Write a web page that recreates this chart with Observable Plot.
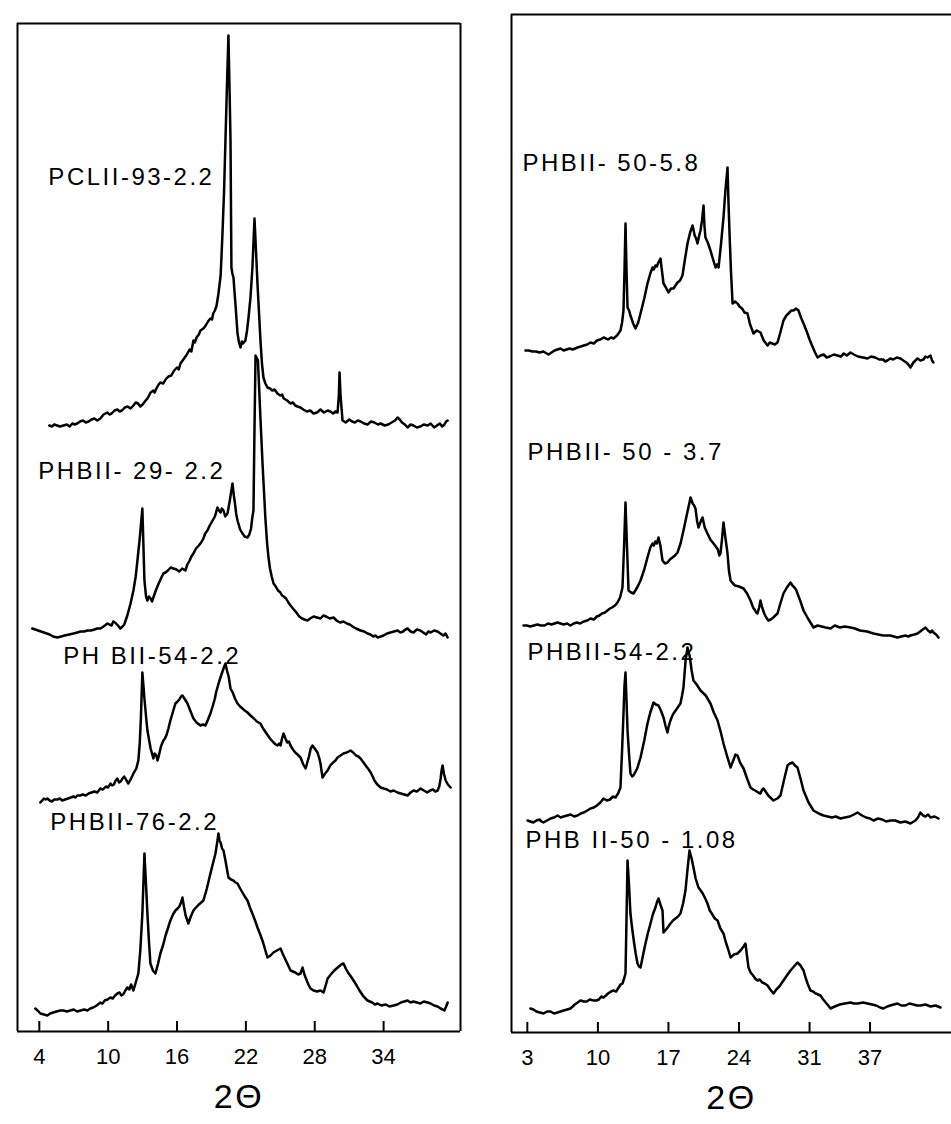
<!DOCTYPE html>
<html><head><meta charset="utf-8">
<script src="https://cdn.jsdelivr.net/npm/d3@7"></script>
<script src="https://cdn.jsdelivr.net/npm/@observablehq/plot@0.6"></script>
<style>
body{margin:0;background:#fff;}
#wrap{position:relative;width:951px;height:1124px;overflow:hidden;background:#fff;}
#left,#right{position:absolute;top:0;}
#left{left:0;width:476px;} #right{left:476px;width:475px;}
</style></head><body><div id="wrap"><div id="left"></div><div id="right"></div></div>
<script>
// ---------- tick labels ----------
const leftTicks = [4, 10, 16, 22, 28, 34];
const rightTicks = [3, 10, 17, 24, 31, 37];
const axisTitle = "2Θ";

// ---------- left panel ----------
const leftNames = ["PCLII-93-2.2", "PHBII- 29- 2.2", "PH BII-54-2.2", "PHBII-76-2.2"];
const leftOffsets = [606, 403, 233, 21];
const leftLabelX = [4.79, 3.91, 6.09, 4.96];
const leftLabelY = [854, 560, 375, 209];

const pcl93 = [[4.87,0],[5.1,-1],[5.3,1],[5.55,0],[5.8,-1],[6.1,0],[6.4,1],[6.65,-1],[6.88,2],[7.1,1],[7.3,2],[7.55,4],[7.8,5],[8.05,3],[8.3,4],[8.55,6],[8.8,7],[9.05,5],[9.32,7],[9.6,11],[9.93,13],[10.1,11],[10.3,12],[10.55,15],[10.8,16],[11.0,14],[11.2,15],[11.45,18],[11.7,19],[11.95,17],[12.2,20],[12.4,23],[12.6,22],[12.8,19],[13.0,21],[13.2,24],[13.42,27],[13.7,33],[13.94,35],[14.05,33],[14.2,37],[14.4,41],[14.55,43],[14.8,42],[15.0,46],[15.25,49],[15.5,50],[15.75,55],[16.0,58],[16.15,56],[16.3,62],[16.55,66],[16.8,70],[17.1,76],[17.25,74],[17.43,85],[17.55,83],[17.7,88],[17.9,91],[18.04,95],[18.3,97],[18.5,100],[18.7,104],[18.91,107],[19.05,106],[19.15,112],[19.3,115],[19.45,120],[19.61,132],[19.8,150],[19.96,192],[20.1,235],[20.22,285],[20.35,340],[20.48,390],[20.57,340],[20.66,285],[20.74,158],[20.82,152],[20.92,148],[21.0,135],[21.1,120],[21.27,92],[21.4,83],[21.53,78],[21.65,84],[21.75,82],[21.96,85],[22.1,95],[22.23,108],[22.4,128],[22.57,158],[22.75,207],[22.9,170],[23.01,142],[23.27,85],[23.4,62],[23.53,48],[23.7,42],[23.88,38],[24.1,37],[24.3,35],[24.5,36],[24.75,32],[25.0,30],[25.15,31],[25.3,27],[25.6,25],[25.89,22],[26.1,23],[26.3,20],[26.5,19],[26.76,18],[27.0,16],[27.3,14],[27.6,15],[27.9,12],[28.2,13],[28.5,16],[28.8,13],[29.12,15],[29.35,14],[29.6,12],[29.8,14],[29.99,13],[30.1,30],[30.16,53],[30.25,30],[30.42,5],[30.7,3],[31.0,6],[31.25,4],[31.5,3],[31.75,5],[32.0,4],[32.3,2],[32.6,1],[32.9,4],[33.2,3],[33.5,1],[33.74,2],[34.1,0],[34.4,1],[34.7,3],[35.0,5],[35.22,8],[35.4,6],[35.6,3],[35.85,1],[36.09,-2],[36.35,1],[36.6,0],[36.9,-2],[37.2,-1],[37.5,1],[37.84,0],[38.1,2],[38.4,-2],[38.65,0],[38.9,2],[39.1,-1],[39.3,1],[39.45,4],[39.58,5]];
const phb29 = [[3.39,0],[3.65,-1],[3.9,-2],[4.15,-3],[4.4,-4],[4.65,-5],[4.9,-6],[5.2,-8],[5.57,-9],[5.9,-8],[6.2,-7],[6.6,-6],[6.97,-5],[7.3,-4],[7.6,-3],[7.9,-3],[8.2,-2],[8.5,-2],[8.8,-1],[9.05,0],[9.32,0],[9.6,2],[9.93,5],[10.1,4],[10.3,3],[10.45,7],[10.6,6],[10.85,3],[11.06,0],[11.25,2],[11.4,4],[11.55,9],[11.67,13],[11.95,25],[12.2,38],[12.4,52],[12.55,68],[12.75,90],[12.98,120],[13.08,80],[13.16,48],[13.3,32],[13.42,28],[13.55,32],[13.7,30],[13.82,27],[13.94,31],[14.15,38],[14.4,45],[14.6,50],[14.81,55],[15.0,56],[15.2,58],[15.45,61],[15.69,60],[15.95,59],[16.2,57],[16.45,60],[16.73,58],[16.9,64],[17.1,68],[17.25,72],[17.43,75],[17.65,80],[17.9,83],[18.1,86],[18.3,90],[18.45,95],[18.65,98],[18.85,103],[19.1,108],[19.3,112],[19.52,121],[19.65,118],[19.8,116],[19.9,120],[20.05,118],[20.2,112],[20.4,115],[20.6,128],[20.83,145],[20.95,133],[21.05,125],[21.15,115],[21.27,108],[21.5,99],[21.7,95],[21.9,92],[22.14,91],[22.3,94],[22.45,100],[22.55,110],[22.66,118],[22.75,200],[22.84,273],[23.05,268],[23.27,210],[23.45,165],[23.7,110],[23.85,85],[23.97,71],[24.1,60],[24.25,52],[24.41,45],[24.6,42],[24.8,38],[25.0,36],[25.15,33],[25.3,32],[25.5,30],[25.7,26],[25.89,23],[26.1,20],[26.25,18],[26.4,16],[26.65,12],[26.9,10],[27.1,9],[27.37,8],[27.6,10],[27.9,12],[28.2,11],[28.5,10],[28.75,13],[29.0,12],[29.3,10],[29.64,11],[29.9,8],[30.2,6],[30.5,7],[30.8,5],[31.05,4],[31.3,2],[31.6,0],[31.99,-2],[32.3,-3],[32.6,-5],[32.85,-6],[33.1,-8],[33.3,-7],[33.47,-9],[33.75,-8],[34.0,-7],[34.3,-5],[34.6,-4],[34.9,-3],[35.22,-2],[35.45,-4],[35.7,-3],[35.9,-1],[36.09,0],[36.35,-3],[36.6,-4],[36.9,-1],[37.2,-2],[37.45,-4],[37.7,-6],[37.9,-3],[38.1,-4],[38.4,-2],[38.7,-3],[38.95,-5],[39.2,-7],[39.4,-5],[39.58,-9]];
const phb54L = [[4.09,-4],[4.25,-2],[4.4,0],[4.55,-1],[4.7,0],[4.9,-2],[5.1,-3],[5.3,-1],[5.57,-1],[5.8,0],[6.0,-2],[6.25,-1],[6.5,0],[6.75,1],[6.97,2],[7.15,1],[7.31,3],[7.55,3],[7.8,4],[8.05,3],[8.3,5],[8.55,6],[8.8,7],[9.05,6],[9.32,10],[9.55,9],[9.8,12],[10.0,11],[10.2,15],[10.35,13],[10.5,14],[10.65,18],[10.8,20],[10.95,16],[11.1,17],[11.25,20],[11.4,22],[11.6,18],[11.76,15],[12.0,20],[12.2,25],[12.45,30],[12.63,38],[12.75,55],[12.85,80],[12.98,126],[13.08,112],[13.16,100],[13.3,82],[13.42,68],[13.7,50],[13.94,40],[14.05,45],[14.2,43],[14.3,38],[14.38,41],[14.6,52],[14.81,58],[14.95,60],[15.1,64],[15.25,70],[15.42,78],[15.65,87],[15.86,95],[16.05,97],[16.2,99],[16.35,102],[16.47,103],[16.7,99],[16.91,95],[17.15,88],[17.43,80],[17.7,76],[18.04,73],[18.25,74],[18.48,73],[18.7,79],[18.91,85],[19.1,92],[19.3,100],[19.4,106],[19.52,111],[19.7,118],[19.9,125],[20.05,130],[20.22,135],[20.35,128],[20.5,122],[20.66,110],[20.85,106],[21.05,100],[21.27,95],[21.5,92],[21.7,90],[21.9,88],[22.14,86],[22.4,83],[22.7,80],[22.95,77],[23.27,75],[23.5,70],[23.8,65],[24.1,60],[24.41,56],[24.6,54],[24.75,53],[24.9,55],[25.02,53],[25.15,60],[25.28,65],[25.45,60],[25.6,56],[25.75,57],[25.89,53],[26.1,49],[26.3,46],[26.5,44],[26.76,41],[27.0,34],[27.2,30],[27.35,36],[27.5,42],[27.65,50],[27.81,53],[28.0,50],[28.24,46],[28.4,40],[28.5,35],[28.6,27],[28.68,21],[28.9,25],[29.12,28],[29.35,33],[29.6,36],[29.8,38],[29.99,41],[30.25,43],[30.5,45],[30.8,46],[31.12,48],[31.35,46],[31.6,43],[31.8,42],[31.99,40],[32.25,36],[32.5,32],[32.7,29],[32.87,26],[33.05,22],[33.2,18],[33.45,14],[33.74,11],[34.0,10],[34.3,9],[34.6,7],[34.87,8],[35.2,6],[35.5,5],[35.8,4],[36.09,3],[36.35,6],[36.6,8],[36.9,7],[37.23,10],[37.5,8],[37.8,6],[38.05,8],[38.3,9],[38.5,7],[38.71,8],[38.85,12],[38.97,20],[39.05,28],[39.14,33],[39.25,25],[39.41,18],[39.6,14],[39.84,11]];
const phb76 = [[3.65,2],[3.85,0],[4.1,-3],[4.4,-4],[4.7,-5],[4.95,-3],[5.2,-2],[5.5,-1],[5.83,0],[6.1,0],[6.4,-1],[6.7,0],[7.0,1],[7.3,-1],[7.6,0],[7.9,1],[8.19,0],[8.45,2],[8.7,3],[9.0,5],[9.32,8],[9.5,7],[9.7,10],[9.95,11],[10.19,13],[10.4,12],[10.6,15],[10.8,17],[11.0,18],[11.15,15],[11.3,16],[11.5,20],[11.67,23],[11.85,21],[12.0,26],[12.1,23],[12.2,20],[12.4,28],[12.63,37],[12.8,60],[12.98,97],[13.08,130],[13.16,157],[13.28,130],[13.42,97],[13.55,70],[13.68,47],[13.9,40],[14.12,37],[14.35,47],[14.55,57],[14.8,66],[15.0,75],[15.2,82],[15.42,90],[15.65,96],[15.86,100],[16.05,102],[16.2,104],[16.35,108],[16.47,113],[16.6,104],[16.75,95],[16.99,87],[17.2,94],[17.43,100],[17.65,103],[17.9,106],[18.1,108],[18.3,110],[18.6,122],[18.91,137],[19.15,148],[19.35,157],[19.5,168],[19.61,177],[19.7,170],[19.8,168],[19.92,162],[20.05,160],[20.25,148],[20.48,133],[20.7,131],[20.9,130],[21.1,128],[21.27,127],[21.5,122],[21.7,118],[21.9,114],[22.14,110],[22.35,103],[22.6,96],[22.8,90],[23.01,83],[23.25,76],[23.5,68],[23.7,60],[23.88,53],[24.15,55],[24.4,58],[24.7,60],[25.02,62],[25.2,57],[25.4,52],[25.65,46],[25.89,40],[26.1,39],[26.3,38],[26.55,36],[26.76,37],[26.85,40],[26.94,43],[27.1,36],[27.3,30],[27.45,26],[27.63,22],[27.9,20],[28.2,19],[28.5,20],[28.77,18],[28.95,25],[29.12,32],[29.4,36],[29.7,40],[29.9,42],[30.1,44],[30.3,46],[30.51,47],[30.7,42],[30.9,38],[31.15,34],[31.38,30],[31.65,25],[31.9,20],[32.25,14],[32.6,10],[32.8,9],[33.0,8],[33.25,6],[33.47,7],[33.8,5],[34.2,6],[34.5,4],[34.87,5],[35.2,6],[35.5,8],[35.8,9],[36.09,10],[36.35,8],[36.6,9],[36.9,8],[37.2,7],[37.5,9],[37.84,8],[38.1,7],[38.4,5],[38.7,4],[38.97,2],[39.15,1],[39.3,0],[39.45,4],[39.58,8]];

// ---------- right panel ----------
const rightNames = ["PHBII- 50-5.8", "PHBII- 50 - 3.7", "PHBII-54-2.2", "PHB II-50 - 1.08"];
const rightOffsets = [682, 407, 212, 24];
const rightLabelX = [2.52, 3.02, 3.02, 2.82];
const rightLabelY = [869, 580, 380, 192];

const phb50_58 = [[2.82,0],[3.15,0],[3.5,-1],[3.85,-1],[4.2,-2],[4.6,-1],[5.1,-4],[5.4,-2],[5.7,0],[6.0,1],[6.29,2],[6.6,0],[6.9,1],[7.2,2],[7.5,1],[7.98,3],[8.3,4],[8.6,5],[8.95,6],[9.27,8],[9.6,7],[9.9,10],[10.25,11],[10.56,13],[10.8,12],[11.0,11],[11.3,13],[11.55,12],[11.9,15],[12.24,20],[12.4,28],[12.54,40],[12.64,80],[12.74,127],[12.84,80],[12.94,43],[13.1,40],[13.23,35],[13.5,27],[13.73,22],[14.0,28],[14.23,37],[14.6,52],[14.92,67],[15.2,77],[15.42,83],[15.55,81],[15.71,85],[15.85,84],[16.0,88],[16.21,92],[16.35,80],[16.51,67],[16.75,63],[17.0,58],[17.25,62],[17.5,62],[17.7,65],[17.9,68],[18.15,70],[18.39,75],[18.65,92],[18.89,107],[19.15,118],[19.39,125],[19.5,120],[19.6,115],[19.75,112],[19.88,107],[20.05,115],[20.18,120],[20.33,130],[20.48,145],[20.57,125],[20.67,113],[20.9,108],[21.17,100],[21.4,92],[21.67,83],[21.8,86],[21.97,83],[22.2,105],[22.46,133],[22.65,160],[22.86,183],[22.95,150],[23.06,117],[23.2,80],[23.36,47],[23.6,49],[23.85,47],[24.05,44],[24.3,42],[24.55,38],[24.84,37],[25.1,26],[25.44,17],[25.75,20],[26.13,18],[26.45,10],[26.83,5],[27.05,8],[27.3,7],[27.55,6],[27.82,8],[28.1,18],[28.41,30],[28.7,35],[29.0,38],[29.2,40],[29.41,40],[29.65,42],[29.9,40],[30.15,33],[30.4,27],[30.6,22],[30.79,17],[31.0,11],[31.2,6],[31.5,-1],[31.79,-7],[32.1,-5],[32.4,-4],[32.7,-7],[33.0,-6],[33.4,-4],[33.77,-5],[34.1,-6],[34.4,-3],[34.7,-5],[35.06,-2],[35.4,-4],[35.8,-6],[36.3,-7],[36.75,-8],[37.1,-6],[37.5,-7],[37.9,-9],[38.3,-9],[38.5,-11],[38.73,-10],[39.0,-8],[39.3,-9],[39.65,-7],[40.02,-8],[40.3,-10],[40.6,-12],[40.8,-14],[41.01,-17],[41.3,-12],[41.71,-8],[42.0,-10],[42.3,-9],[42.5,-6],[42.7,-7],[43.0,-5],[43.15,-10],[43.29,-12]];
const phb50_37 = [[2.62,0],[2.95,0],[3.3,-1],[3.65,0],[4.0,1],[4.35,0],[4.7,0],[5.05,2],[5.4,1],[5.7,2],[5.99,3],[6.3,2],[6.6,1],[6.95,2],[7.28,0],[7.6,2],[7.9,3],[8.25,2],[8.6,4],[8.95,5],[9.27,7],[9.6,6],[9.9,9],[10.15,10],[10.4,12],[10.7,13],[10.95,15],[11.2,17],[11.4,18],[11.7,20],[11.94,23],[12.2,28],[12.44,38],[12.6,80],[12.74,123],[12.9,75],[13.04,35],[13.3,33],[13.53,32],[13.9,38],[14.23,45],[14.6,56],[14.92,68],[15.2,78],[15.42,82],[15.55,80],[15.7,84],[15.85,82],[16.01,88],[16.2,80],[16.41,65],[16.65,62],[16.9,63],[17.15,66],[17.4,68],[17.65,70],[17.9,73],[18.2,82],[18.49,95],[18.85,112],[19.19,128],[19.3,125],[19.4,122],[19.55,120],[19.68,117],[19.85,104],[19.98,98],[20.2,104],[20.38,108],[20.6,98],[20.87,92],[21.15,86],[21.47,82],[21.7,79],[21.9,76],[22.05,70],[22.16,72],[22.3,85],[22.46,103],[22.65,88],[22.86,72],[23.0,55],[23.16,45],[23.4,42],[23.6,40],[24.0,39],[24.45,37],[24.8,32],[25.14,25],[25.4,18],[25.6,15],[25.7,13],[25.83,12],[26.0,18],[26.13,25],[26.3,18],[26.5,12],[26.7,8],[26.92,5],[27.15,6],[27.4,8],[27.6,10],[27.82,12],[28.1,22],[28.41,32],[28.75,38],[29.11,43],[29.3,40],[29.5,38],[29.65,36],[29.8,32],[30.1,24],[30.4,15],[30.9,6],[31.39,-2],[31.8,0],[32.2,-1],[32.6,-2],[33.08,-3],[33.5,0],[34.0,-2],[34.5,-1],[35.06,-2],[35.5,-3],[36.0,-5],[36.7,-6],[37.34,-8],[37.8,-9],[38.3,-10],[39.0,-10],[39.72,-12],[40.1,-11],[40.5,-10],[40.8,-11],[41.01,-10],[41.4,-9],[41.71,-8],[42.1,-5],[42.5,-2],[42.75,-5],[43.0,-7],[43.15,-5],[43.29,-7],[43.55,-9],[43.79,-12]];
const phb54R = [[3.02,0],[3.3,-1],[3.6,-2],[3.9,0],[4.2,1],[4.4,-1],[4.6,-2],[4.95,0],[5.3,2],[5.65,3],[5.99,5],[6.3,3],[6.6,4],[6.95,5],[7.3,6],[7.65,4],[7.98,5],[8.3,7],[8.6,8],[8.95,10],[9.27,12],[9.6,13],[9.9,15],[10.25,18],[10.56,22],[10.9,20],[11.2,21],[11.5,24],[11.75,23],[12.0,27],[12.24,33],[12.4,70],[12.54,107],[12.64,135],[12.74,148],[12.84,120],[12.94,90],[13.1,65],[13.23,47],[13.4,44],[13.53,45],[13.9,52],[14.23,63],[14.6,80],[14.92,97],[15.2,108],[15.52,118],[15.75,116],[16.01,115],[16.25,110],[16.51,103],[16.7,95],[16.9,88],[17.05,95],[17.2,100],[17.35,104],[17.5,107],[17.85,112],[18.19,117],[18.35,125],[18.49,133],[18.7,160],[18.89,173],[19.0,168],[19.1,165],[19.3,150],[19.48,140],[19.8,136],[20.18,130],[20.7,125],[21.17,117],[21.5,108],[21.87,100],[22.2,88],[22.46,77],[22.8,65],[23.16,53],[23.5,62],[23.65,66],[23.85,65],[24.1,58],[24.45,52],[24.8,42],[25.14,33],[25.4,31],[25.6,30],[25.9,28],[26.13,27],[26.3,31],[26.43,32],[26.9,25],[27.42,20],[27.8,22],[28.11,25],[28.5,42],[28.81,55],[29.05,57],[29.31,58],[29.55,55],[29.8,53],[30.1,42],[30.4,30],[30.9,18],[31.39,10],[31.9,7],[32.38,5],[32.8,4],[33.2,3],[33.6,4],[34.07,2],[34.5,3],[35.0,4],[35.4,6],[35.76,8],[36.2,5],[36.6,3],[37.0,2],[37.34,0],[37.8,2],[38.2,1],[38.6,-1],[39.03,0],[39.5,0],[40.0,-2],[40.5,-1],[41.01,-3],[41.5,0],[41.75,3],[42.0,8],[42.25,5],[42.5,4],[42.75,6],[43.0,3],[43.4,4],[43.79,2]];
const phb50_108 = [[3.31,0],[3.6,-1],[3.9,-3],[4.25,-4],[4.6,-5],[4.95,-3],[5.3,-3],[5.65,-5],[5.99,-4],[6.3,-3],[6.6,-2],[6.95,-1],[7.28,0],[7.5,2],[7.7,4],[8.0,6],[8.27,8],[8.6,7],[8.9,7],[9.2,9],[9.56,8],[9.85,8],[10.1,9],[10.35,12],[10.56,11],[10.8,13],[11.0,15],[11.3,17],[11.55,18],[11.8,17],[12.0,20],[12.25,24],[12.44,25],[12.6,30],[12.74,35],[12.84,90],[12.94,148],[13.08,125],[13.23,95],[13.4,80],[13.6,65],[13.75,55],[13.93,45],[14.08,42],[14.23,41],[14.45,52],[14.72,65],[14.95,75],[15.22,85],[15.45,94],[15.71,101],[15.85,106],[16.01,110],[16.2,104],[16.41,98],[16.51,76],[16.85,80],[17.2,85],[17.45,88],[17.7,90],[17.95,92],[18.19,95],[18.45,105],[18.69,118],[18.9,140],[19.09,158],[19.3,150],[19.48,141],[19.7,130],[19.98,121],[20.2,118],[20.4,115],[20.65,110],[20.87,105],[21.1,98],[21.3,95],[21.6,90],[21.87,88],[22.15,80],[22.46,75],[22.7,66],[22.9,60],[23.05,55],[23.16,51],[23.5,54],[23.85,55],[24.15,58],[24.45,62],[24.64,65],[24.8,52],[24.94,41],[25.15,36],[25.4,33],[25.6,30],[25.83,28],[26.05,29],[26.3,26],[26.55,25],[26.83,23],[27.1,19],[27.42,15],[27.7,19],[28.0,22],[28.2,25],[28.41,28],[28.75,33],[29.11,38],[29.45,42],[29.8,46],[30.1,43],[30.4,38],[30.6,31],[30.8,25],[31.09,18],[31.35,17],[31.6,15],[31.85,14],[32.08,13],[32.35,9],[32.6,6],[32.85,3],[33.08,0],[33.5,2],[34.0,4],[34.5,5],[35.06,6],[35.4,5],[35.8,5],[36.3,6],[36.75,5],[37.2,4],[37.6,3],[38.0,1],[38.33,0],[38.7,2],[39.0,3],[39.35,4],[39.72,5],[40.1,3],[40.5,3],[40.9,5],[41.3,4],[41.65,3],[42.0,3],[42.5,4],[43.0,2],[43.5,3],[43.99,1]];

const FONT = "'Liberation Sans', Arial, sans-serif";

function panel({series, names, offsets, labelX, labelY, ticks, domain, width, marginLeft, marginRight, marginTop, marginBottom, yMax, rightSide}) {
  const rows = series.flatMap((s, i) => s.map(([t, v]) => ({t, y: v + offsets[i], k: i})));
  const labels = names.map((n, i) => ({n, x: labelX[i], y: labelY[i]}));
  const marks = [
    Plot.ruleY([yMax], {stroke: "black", strokeWidth: 2}),
    Plot.ruleY([0], {stroke: "black", strokeWidth: 2}),
    Plot.ruleX([domain[0]], {stroke: "black", strokeWidth: 2}),
  ];
  if (rightSide) marks.push(Plot.ruleX([domain[1]], {stroke: "black", strokeWidth: 2}));
  marks.push(
    // inward tick marks
    Plot.ruleX(ticks, {x: d => d, y1: 0, y2: 10, stroke: "black", strokeWidth: 2}),
    Plot.axisX({ticks, tickSize: 0, tickPadding: 17, fontSize: 22, label: null}),
    Plot.line(rows, {x: "t", y: "y", z: "k", stroke: "black", strokeWidth: 2.5, strokeLinejoin: "round"}),
    Plot.text(labels, {x: "x", y: "y", text: "n", textAnchor: "start", fontSize: 24, fill: "black"}),
    Plot.text([axisTitle], {frameAnchor: "bottom", dy: 76, fontSize: 34, fill: "black"})
  );
  const svg = Plot.plot({
    width, height: 1124, marginLeft, marginRight, marginTop, marginBottom,
    style: {background: "white", fontFamily: FONT, fontSize: "22px", color: "black"},
    x: {domain, label: null},
    y: {domain: [0, yMax], axis: null},
    marks
  });
  d3.select(svg).selectAll('g[aria-label="text"] text').style("letter-spacing", "2.5px");
  return svg;
}

document.getElementById("left").appendChild(panel({
  series: [pcl93, phb29, phb54L, phb76], names: leftNames, offsets: leftOffsets,
  labelX: leftLabelX, labelY: leftLabelY, ticks: leftTicks, domain: [2.1, 40.7],
  width: 476, marginLeft: 17, marginRight: 16, marginTop: 23, marginBottom: 93, yMax: 1008, rightSide: true
}));
document.getElementById("right").appendChild(panel({
  series: [phb50_58, phb50_37, phb54R, phb50_108], names: rightNames, offsets: rightOffsets,
  labelX: rightLabelX, labelY: rightLabelY, ticks: rightTicks, domain: [1.43, 45.08],
  width: 475, marginLeft: 35, marginRight: 0, marginTop: 14, marginBottom: 92, yMax: 1018, rightSide: false
}));
</script></body></html>
